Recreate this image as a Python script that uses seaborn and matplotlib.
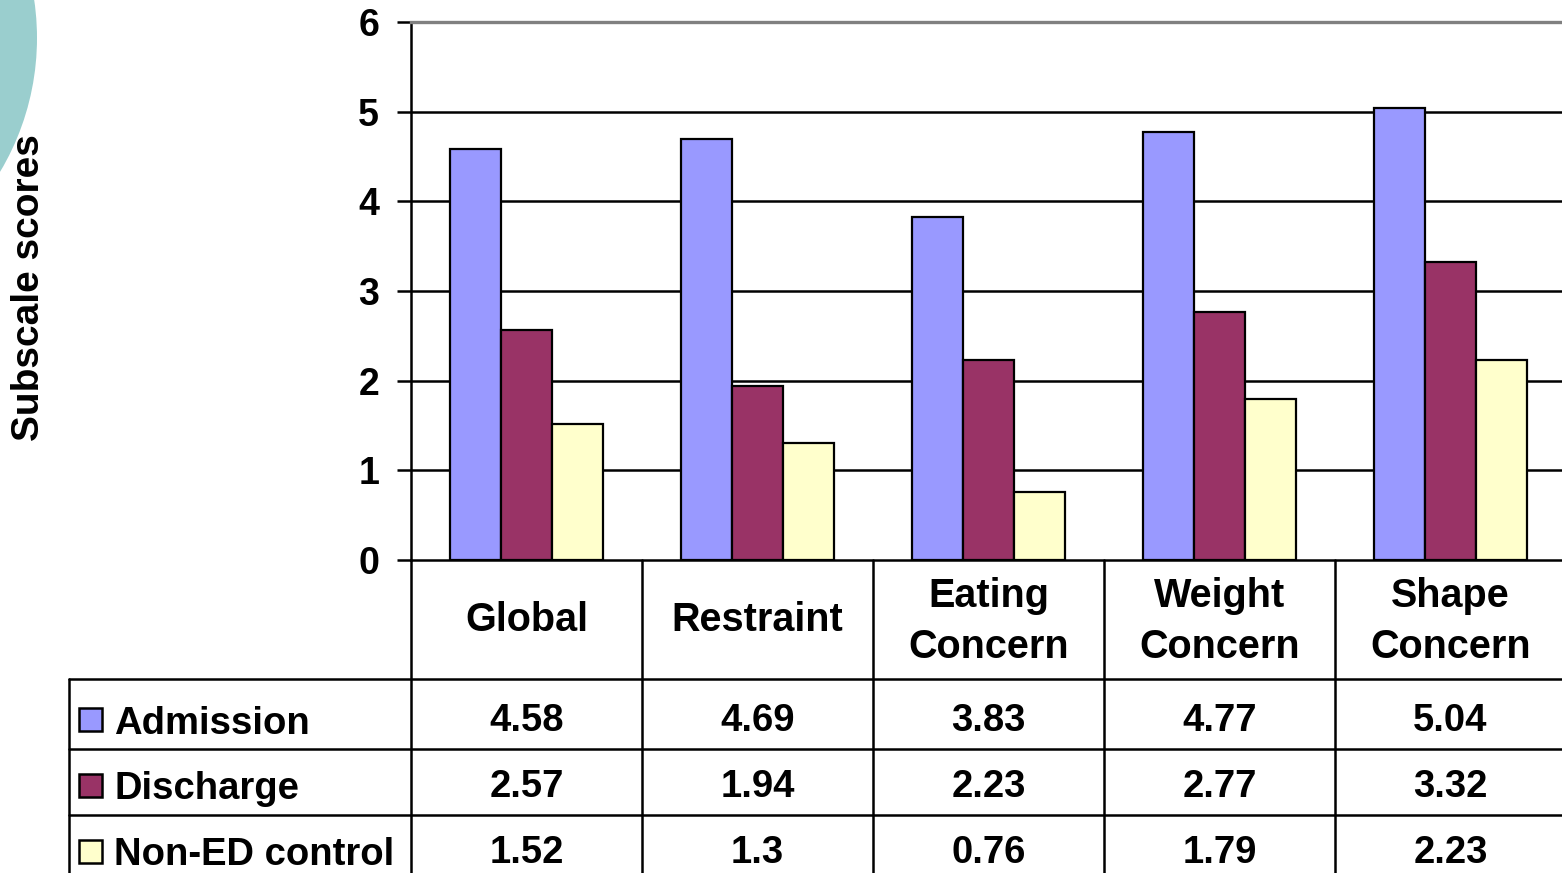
import matplotlib
matplotlib.use("Agg")
import matplotlib.pyplot as plt
import matplotlib.transforms as mtransforms
from matplotlib.patches import Ellipse, Rectangle
from matplotlib.lines import Line2D
import seaborn as sns
import pandas as pd

# ---------------- data ----------------
categories = ["Global", "Restraint", "Eating\nConcern", "Weight\nConcern", "Shape\nConcern"]
series = ["Admission", "Discharge", "Non-ED control"]
admission = [4.58, 4.69, 3.83, 4.77, 5.04]
discharge = [2.57, 1.94, 2.23, 2.77, 3.32]
non_ed = [1.52, 1.3, 0.76, 1.79, 2.23]
colors = ["#9999FF", "#993366", "#FFFFCC"]
y_ticks = [0, 1, 2, 3, 4, 5, 6]
y_label = "Subscale scores"

# ---------------- setup ----------------
W, H = 1562, 873
sns.set_theme(style="white")
plt.rcParams['font.family'] = ['Liberation Sans', 'DejaVu Sans']
plt.rcParams['font.weight'] = 'bold'

fig = plt.figure(figsize=(W / 100, H / 100), dpi=100)
fig.patch.set_facecolor('white')


def fx(px):
    return px / W


def fy(py):
    return 1 - py / H


# decorative teal circle (slide background)
circ = Ellipse((fx(-224), fy(38)), width=2 * 261 / W, height=2 * 261 / H,
               transform=fig.transFigure, facecolor="#9ACECE", edgecolor='none', zorder=0)
fig.add_artist(circ)

ax = fig.add_axes([fx(411), fy(560), fx(1566) - fx(411), fy(22) - fy(560)])
ax.set_facecolor('none')

df = pd.DataFrame({
    "category": categories * 3,
    "series": [s for s in series for _ in categories],
    "value": admission + discharge + non_ed,
})

sns.barplot(data=df, x="category", y="value", hue="series", order=categories,
            hue_order=series, palette=colors, width=0.66, saturation=1,
            edgecolor="black", linewidth=1.6, legend=False, ax=ax, zorder=3)

ax.set_xlim(-0.5, len(categories) - 0.5)
ax.set_ylim(y_ticks[0], y_ticks[-1])
ax.set_yticks(y_ticks)
ax.set_xticks([])
ax.set_xlabel("")
ax.set_ylabel("")

for t in y_ticks[1:-1]:
    ax.axhline(t, color="black", linewidth=1.8, zorder=1)

ax.spines["right"].set_visible(False)
ax.spines["top"].set_visible(True)
ax.spines["top"].set_color("#808080")
ax.spines["top"].set_linewidth(2.4)
ax.spines["left"].set_color("black")
ax.spines["left"].set_linewidth(1.8)
ax.spines["bottom"].set_color("black")
ax.spines["bottom"].set_linewidth(1.8)

ax.tick_params(axis='y', direction='out', length=10, width=1.8, color='black',
               pad=13, labelsize=27, left=True)
for lab in ax.get_yticklabels():
    lab.set_fontweight('bold')
    lab.set_color('black')

fig.text(fx(29), fy(288), y_label, rotation=90, ha='center', va='center',
         fontsize=28, fontweight='bold', color='black')

# ---------------- data table ----------------
trans = mtransforms.blended_transform_factory(ax.transData, fig.transFigure)
lw = 1.8
n = len(categories)
# vertical lines between category cells
for k in range(n + 1):
    fig.add_artist(Line2D([k - 0.5, k - 0.5], [fy(560), fy(900)], transform=trans,
                          color='black', linewidth=lw))
# horizontal row lines
row_tops = [679, 749, 815]
for yy in row_tops:
    fig.add_artist(Line2D([fx(69), 1.0], [fy(yy), fy(yy)], transform=fig.transFigure,
                          color='black', linewidth=lw))
# left border
fig.add_artist(Line2D([fx(69), fx(69)], [fy(679), fy(900)], transform=fig.transFigure,
                      color='black', linewidth=lw))

# header labels
for i, cat in enumerate(categories):
    lines = cat.split("\n")
    baselines = [631] if len(lines) == 1 else [607, 658]
    for line, b in zip(lines, baselines):
        ax.text(i, fy(b), line, transform=trans, ha='center', va='baseline',
                fontsize=28.5, fontweight='bold', color='black')

# rows
value_baselines = [731, 797, 863]
label_baselines = [734, 799, 865]
key_tops = [708, 774, 840]
for vals, name, col, vb, lb, kt in zip([admission, discharge, non_ed], series, colors,
                                       value_baselines, label_baselines, key_tops):
    fig.add_artist(Rectangle((fx(79), fy(kt + 23)), 23 / W, 23 / H, transform=fig.transFigure,
                             facecolor=col, edgecolor='black', linewidth=1.8))
    fig.text(fx(114), fy(lb), name, ha='left', va='baseline', fontsize=27.5,
             fontweight='bold', color='black')
    for i, v in enumerate(vals):
        ax.text(i, fy(vb), f"{v:g}", transform=trans, ha='center', va='baseline',
                fontsize=27.5, fontweight='bold', color='black')

fig.savefig("out.png", dpi=100)
